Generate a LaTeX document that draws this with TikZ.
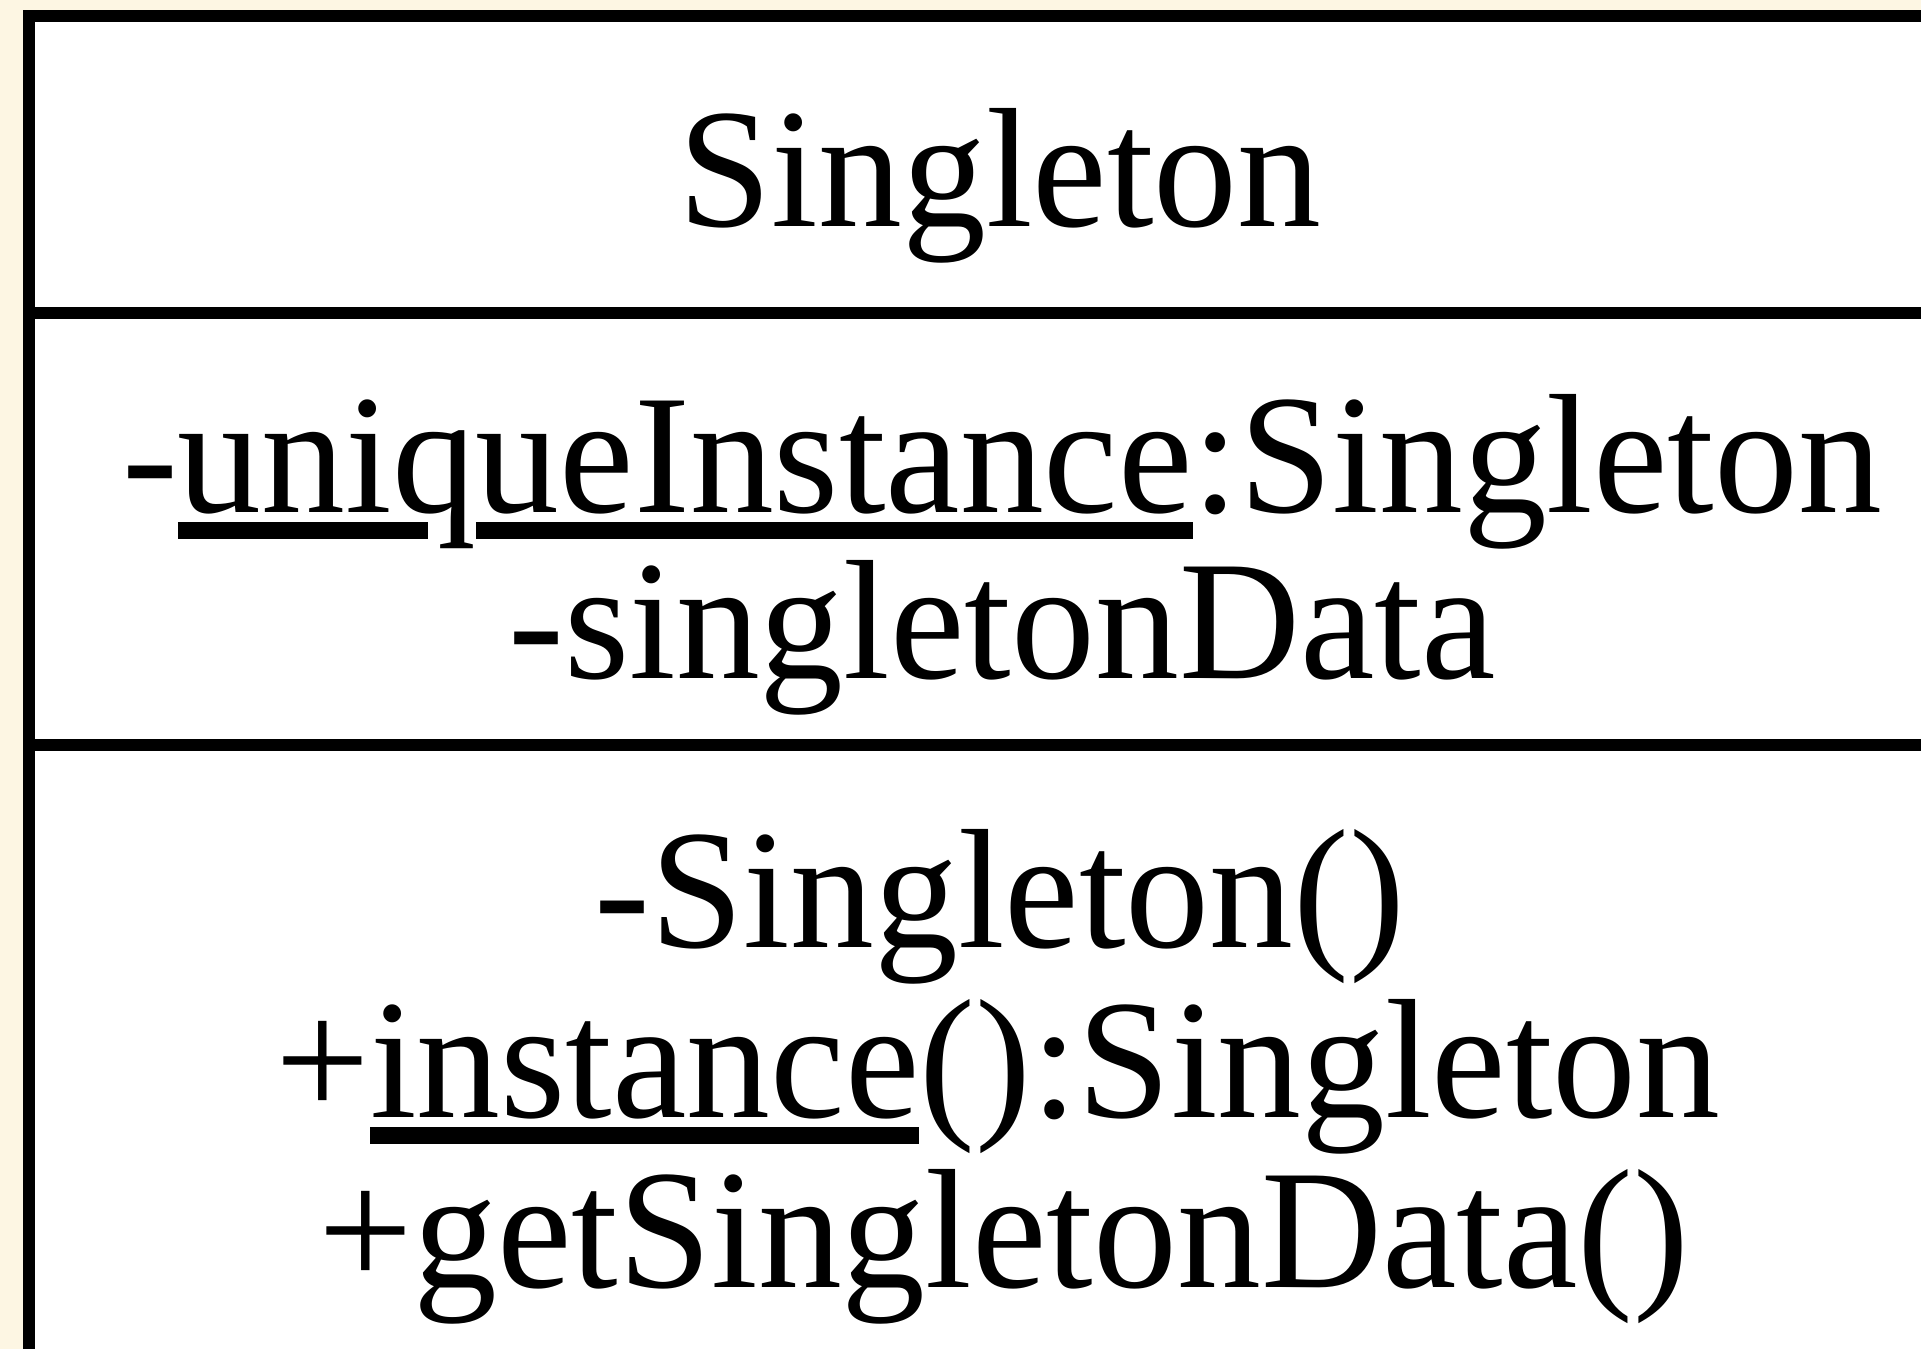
\documentclass[tikz,border=0pt]{standalone}
\usepackage{fontspec}
\setmainfont{Liberation Serif}[FakeStretch=0.985]
\usepackage{tikz}

\definecolor{fondo}{HTML}{FDF6E3}

% subrayado grueso (miembros estaticos)
\newcommand{\umlul}[1]{\setbox0\hbox{#1}\rlap{\vrule height -0.06em depth 0.16em width \wd0}\box0}
\newcommand{\ulrule}[1]{\rlap{\vrule height -0.06em depth 0.16em width #1}}

\begin{document}
\begin{tikzpicture}[x=0.01cm, y=-0.01cm,
        texto/.style={anchor=base, inner sep=0pt, font=\fontsize{48.4}{48.4}\selectfont},
        borde/.style={line width=0.125cm}]
            \useasboundingbox (0,0) rectangle (1921,1349);
            \clip (0,0) rectangle (1921,1349);
            \fill [fondo] (0,0) rectangle (1921,1349);
            \draw [borde, fill=white] (29,16) rectangle (2100,1500); % clase
            \draw [borde] (29,313) -- (2100,313); % atributos
            \draw [borde] (29,745) -- (2100,745); % operaciones
            \node [texto] (nombre) at (1000,227) {Singleton};
            \node [texto] (attrA) at (1002,512) {-\umlul{uni}\ulrule{0.21em}q\umlul{ueInstance}:Singleton};
            \node [texto] (attrB) at (1002,678) {-singletonData};
            \node [texto] (opA) at (1000,947) {-Singleton()};
            \node [texto] (opB) at (998,1117) {+\umlul{instance}():Singleton};
            \node [texto] (opC) at (1004,1287) {+getSingletonData()};
        \end{tikzpicture}
\end{document}
